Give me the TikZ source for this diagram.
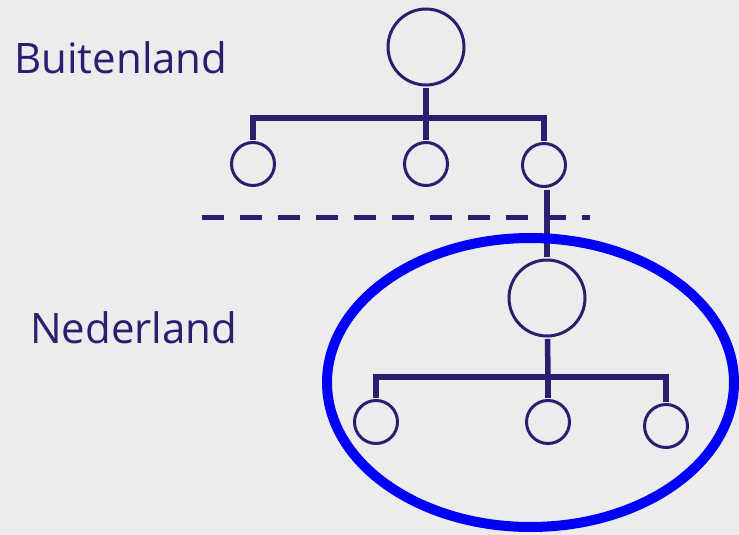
\documentclass[tikz,border=0pt]{standalone}
\usepackage{fontspec}
\setmainfont{Open Sans}
\definecolor{navy}{RGB}{43,30,110}
\definecolor{bgrey}{RGB}{236,236,236}
\definecolor{ringblue}{RGB}{0,0,250}

\begin{document}
\begin{tikzpicture}[
  x=1pt, y=-1pt,
  big/.style={circle, draw=navy, line width=3pt, minimum size=76pt, inner sep=0pt, outer sep=3pt},
  small/.style={circle, draw=navy, line width=3pt, minimum size=43pt, inner sep=0pt, outer sep=3pt},
  stem/.style={draw=navy, line width=5.5pt},
  label/.style={text=navy, font=\fontsize{42}{42}\selectfont, inner sep=0pt}
  ]
  \fill[bgrey] (0,0) rectangle (739,535);
  \useasboundingbox (0,0) rectangle (739,535);

  \node[label, anchor=base west] (bl) at (14,74) {Buitenland};
  \node[label, anchor=base west] (nl) at (30,343) {Nederland};

  % buitenland
  \node[big] (t) at (426,47) {};
  \node[small] (t1) at (253,164) {};
  \node[small] (t2) at (426,164) {};
  \node[small] (t3) at (544,165) {};
  \coordinate (tf) at (426,118);
  \draw[stem] (t) -- (tf);
  \draw[stem] (t1.north) |- (tf) -| (t3.north);
  \draw[stem] (tf) -- (t2);

  \draw[navy, line width=5pt, dash pattern=on 21.7pt off 16.3pt] (202,217) -- (590,217);

  % nederland
  \node[big] (n) at (547,298) {};
  \node[small] (n1) at (376,422) {};
  \node[small] (n2) at (548,422) {};
  \node[small] (n3) at (666,426) {};
  \coordinate (nf) at (548,377);
  \draw[stem] (n.north |- t3.south) -- (n.north);
  \draw[stem] (n) -- (nf);
  \draw[stem] (n1.north) |- (nf) -| (n3.north);
  \draw[stem] (nf) -- (n2);

  \draw[ringblue, line width=10pt] (530.5,382.5) ellipse [x radius=203.5, y radius=144.5];
\end{tikzpicture}
\end{document}
